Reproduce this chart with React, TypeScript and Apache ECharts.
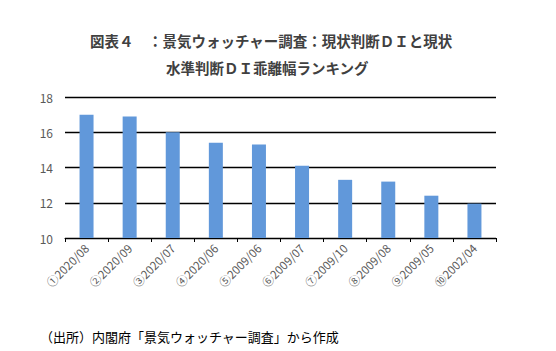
import React, { useEffect, useRef } from "react";
import * as echarts from "echarts";

const categories = ["①2020/08", "②2020/09", "③2020/07", "④2020/06", "⑤2009/06", "⑥2009/07", "⑦2009/10", "⑧2009/08", "⑨2009/05", "⑩2002/04"];
const values = [17.0, 16.9, 16.0, 15.4, 15.3, 14.1, 13.3, 13.2, 12.4, 11.95];
const titleLine1 = "図表４　：景気ウォッチャー調査：現状判断ＤＩと現状";
const titleLine2 = "水準判断ＤＩ乖離幅ランキング";
const sourceNote = "（出所）内閣府「景気ウォッチャー調査」から作成";

const FONT = "'Noto Sans CJK JP', 'Noto Sans', sans-serif";

export default function App() {
  const ref = useRef<HTMLDivElement>(null);
  useEffect(() => {
    if (!ref.current) return;
    const chart = echarts.init(ref.current, undefined, { renderer: "svg" });
    chart.setOption({
      animation: false,
      backgroundColor: "#ffffff",
      graphic: [
        {
          type: "text",
          left: 90,
          top: 33,
          style: { text: titleLine1, font: `bold 14.5px ${FONT}`, fill: "#404040" },
        },
        {
          type: "text",
          left: 166,
          top: 60,
          style: { text: titleLine2, font: `bold 14.5px ${FONT}`, fill: "#404040" },
        },
        {
          type: "text",
          left: 40,
          top: 330,
          style: { text: sourceNote, font: `13px ${FONT}`, fill: "#000000" },
        },
      ],
      grid: { left: 65, right: 60, top: 97, bottom: 113, containLabel: false },
      xAxis: {
        type: "category",
        data: categories,
        boundaryGap: true,
        axisLine: { show: true, lineStyle: { color: "#000", width: 1 } },
        axisTick: { show: true, alignWithLabel: false, length: 4, lineStyle: { color: "#000" } },
        axisLabel: {
          rotate: 45,
          interval: 0,
          color: "#595959",
          fontSize: 11.5,
          fontFamily: FONT,
          margin: 8,
        },
      },
      yAxis: {
        type: "value",
        min: 10,
        max: 18,
        interval: 2,
        axisLine: { show: false },
        axisTick: { show: false },
        axisLabel: { color: "#595959", fontSize: 12, fontFamily: FONT, margin: 12 },
        splitLine: { show: true, lineStyle: { color: "#000", width: 1.3 } },
      },
      series: [
        {
          type: "bar",
          data: values,
          barWidth: 14,
          itemStyle: { color: "#6198da" },
        },
      ],
    });
    return () => chart.dispose();
  }, []);
  return (
    <div
      ref={ref}
      style={{ position: "fixed", left: 0, top: 0, width: 556, height: 351 }}
    />
  );
}
